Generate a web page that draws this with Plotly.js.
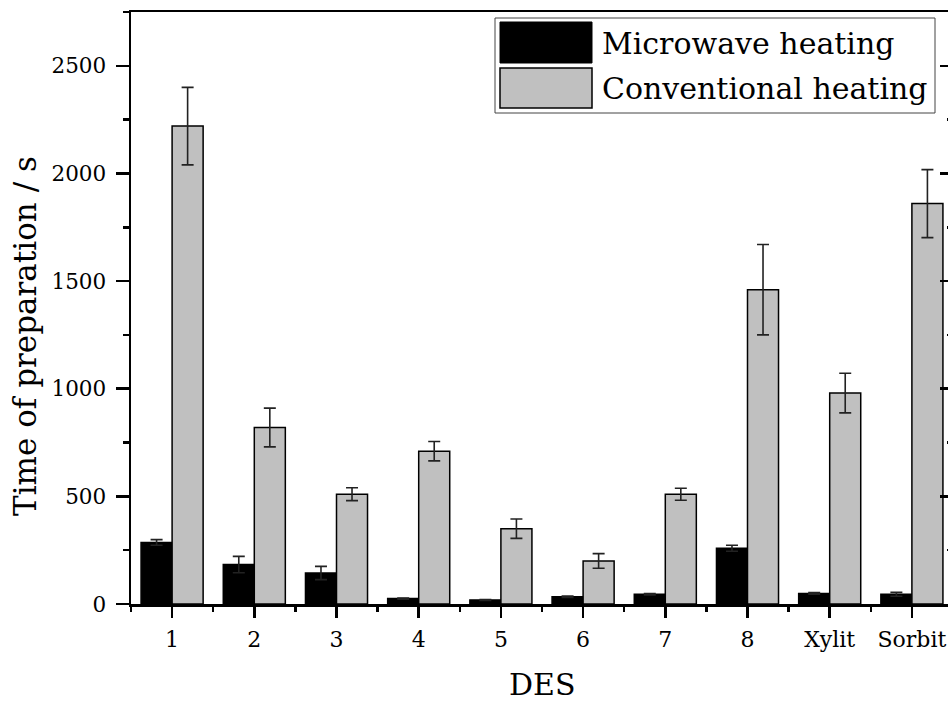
<!DOCTYPE html>
<html>
<head>
<meta charset="utf-8">
<script src="https://cdn.plot.ly/plotly-3.0.1.min.js"></script>
<style>
html, body { margin: 0; padding: 0; overflow: hidden; background: #fff; }
#chart { width: 960px; height: 704px; }
</style>
</head>
<body>
<div id="chart"></div>
<script>
const categories = ["1", "2", "3", "4", "5", "6", "7", "8", "Xylit", "Sorbit"];
const seriesNames = ["Microwave heating", "Conventional heating"];
const microwave = [286, 183, 144, 25, 19, 34, 45, 259, 49, 45];
const microwaveErr = [13, 38, 31, 3, 2, 3, 3, 14, 4, 9];
const conventional = [2220, 820, 510, 710, 350, 200, 510, 1460, 980, 1860];
const conventionalErr = [180, 90, 30, 45, 45, 34, 28, 210, 92, 158];
const seriesColors = ["#000000", "#c0c0c0"];
const xTitle = "DES";
const yTitle = "Time of preparation / s";

const xIdx = categories.map((c, i) => i);
const FONT = "DejaVu Serif, Liberation Serif, serif";

const traces = [
  {
    type: "bar", name: seriesNames[0], x: xIdx, y: microwave,
    marker: { color: seriesColors[0], line: { color: "#000", width: 1.5 } },
    error_y: { type: "data", array: microwaveErr, visible: true, color: "#222", thickness: 1.6, width: 6 },
    showlegend: false, hoverinfo: "skip"
  },
  {
    type: "bar", name: seriesNames[1], x: xIdx, y: conventional,
    marker: { color: seriesColors[1], line: { color: "#000", width: 1.5 } },
    error_y: { type: "data", array: conventionalErr, visible: true, color: "#222", thickness: 1.6, width: 6 },
    showlegend: false, hoverinfo: "skip"
  },
  { type: "scatter", x: [], y: [], yaxis: "y2", showlegend: false, hoverinfo: "skip" }
];

// plot area: x 131..953, y 12..604
const L = 131, R = 953, T = 12, B = 604;
const px = v => (v - L) / (R - L);
const py = v => (B - v) / (B - T);

const layout = {
  width: 960, height: 704,
  margin: { l: L, r: 960 - R, t: T, b: 704 - B },
  paper_bgcolor: "#fff", plot_bgcolor: "#fff",
  barmode: "group", bargap: 0.245, bargroupgap: 0,
  showlegend: false,
  font: { family: FONT, color: "#000" },
  xaxis: {
    range: [-0.5, 9.5],
    tickmode: "array", tickvals: xIdx, ticktext: categories,
    ticks: "outside", ticklen: 11, tickwidth: 2.5, tickcolor: "#000",
    minor: { tick0: 0.5, dtick: 1, ticks: "outside", ticklen: 5, tickwidth: 2.5, tickcolor: "#000" },
    showline: true, linewidth: 2.5, linecolor: "#000", mirror: true,
    showgrid: false, zeroline: false,
    tickfont: { family: FONT, size: 22 },
    ticklabelstandoff: 3,
    title: { text: "" }
  },
  yaxis: {
    range: [0, 2750],
    tickmode: "linear", tick0: 0, dtick: 500,
    ticks: "outside", ticklen: 13, tickwidth: 2.5, tickcolor: "#000",
    minor: { dtick: 250, ticks: "outside", ticklen: 6, tickwidth: 2.5, tickcolor: "#000" },
    showline: true, linewidth: 2.5, linecolor: "#000",
    showgrid: false, zeroline: false,
    tickfont: { family: FONT, size: 21.5 },
    ticklabelstandoff: 5,
    title: { text: "" }
  },
  yaxis2: {
    overlaying: "y", side: "right", range: [0, 2750],
    tickmode: "linear", tick0: 0, dtick: 500,
    ticks: "inside", ticklen: 13, tickwidth: 2.5, tickcolor: "#000",
    minor: { dtick: 250, ticks: "inside", ticklen: 6, tickwidth: 2.5, tickcolor: "#000" },
    showline: true, linewidth: 2.5, linecolor: "#000",
    showgrid: false, zeroline: false, showticklabels: false
  },
  shapes: [
    { type: "rect", xref: "paper", yref: "paper", x0: px(495), x1: px(935), y0: py(113), y1: py(18),
      line: { color: "#444", width: 1 }, fillcolor: "#fff" },
    { type: "rect", xref: "paper", yref: "paper", x0: px(500), x1: px(592), y0: py(63), y1: py(22),
      line: { color: "#000", width: 1 }, fillcolor: seriesColors[0] },
    { type: "rect", xref: "paper", yref: "paper", x0: px(500), x1: px(592), y0: py(108), y1: py(68),
      line: { color: "#000", width: 1.5 }, fillcolor: seriesColors[1] }
  ],
  annotations: [
    { xref: "paper", yref: "paper", x: px(600), y: py(43), xanchor: "left", yanchor: "middle",
      text: seriesNames[0], showarrow: false, font: { family: FONT, size: 30, color: "#000" } },
    { xref: "paper", yref: "paper", x: px(600), y: py(88), xanchor: "left", yanchor: "middle",
      text: seriesNames[1], showarrow: false, font: { family: FONT, size: 30, color: "#000" } },
    { xref: "paper", yref: "paper", x: px(25), y: py(336), xanchor: "center", yanchor: "middle",
      textangle: -90, text: yTitle, showarrow: false, font: { family: FONT, size: 31, color: "#000" } },
    { xref: "paper", yref: "paper", x: px(542), y: py(684), xanchor: "center", yanchor: "middle",
      text: xTitle, showarrow: false, font: { family: FONT, size: 30, color: "#000" } }
  ]
};

Plotly.newPlot("chart", traces, layout, { staticPlot: true, displayModeBar: false });
</script>
</body>
</html>
